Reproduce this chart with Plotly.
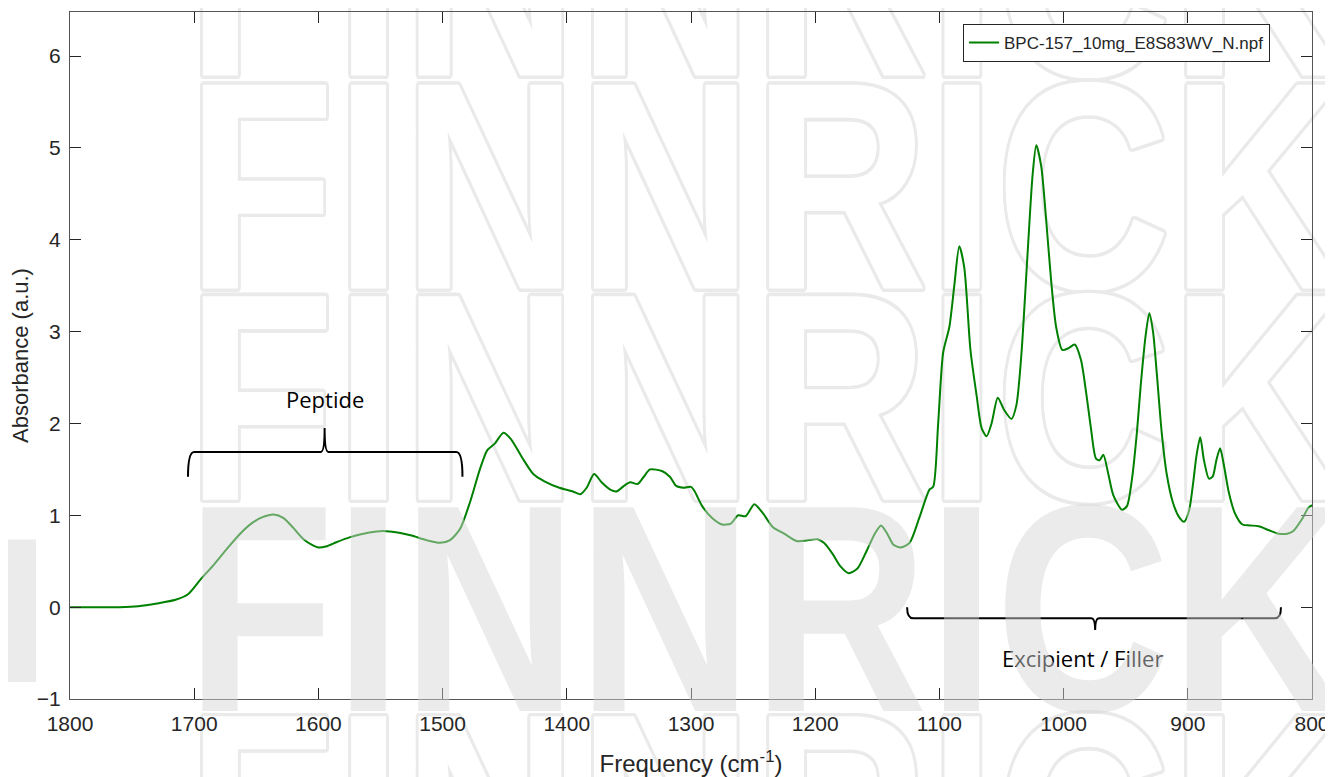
import plotly.graph_objects as go

# ---------------- data ----------------
FREQ = [1800, 1780, 1760, 1745, 1730, 1715, 1705, 1695, 1685, 1674, 1663, 1653, 1645, 1636,
        1628, 1620, 1612, 1604, 1600, 1594, 1585, 1575, 1560, 1548, 1535, 1525, 1513, 1502,
        1494, 1486, 1478, 1470, 1464, 1458, 1451, 1445, 1436, 1427, 1418, 1406, 1395, 1389,
        1384, 1378, 1372, 1365, 1360, 1354, 1349, 1343, 1338, 1333, 1323, 1317, 1312, 1306,
        1300, 1297, 1291, 1283, 1275, 1268, 1262, 1256, 1249, 1242, 1234, 1225, 1215, 1205,
        1198, 1193, 1186, 1180, 1173, 1166, 1159, 1152, 1147, 1142, 1137, 1131, 1124, 1116,
        1108, 1105, 1101, 1097, 1092, 1088, 1084, 1080, 1075, 1070, 1066, 1062, 1058, 1053,
        1048, 1042, 1038, 1034, 1029, 1025, 1022, 1018, 1014, 1010, 1006, 1001, 996, 991,
        986, 982, 978, 974, 971, 968, 964, 960, 953, 949, 945, 941, 938, 934, 931, 928, 925,
        921, 917, 912, 907, 903, 899, 896, 893, 890, 887, 883, 880, 877, 874, 871, 867, 862,
        856, 850, 843, 835, 827, 820, 815, 808, 803, 800]
ABSORBANCE = [0.00, 0.00, 0.00, 0.01, 0.04, 0.08, 0.14, 0.30, 0.45, 0.63, 0.80, 0.92, 0.98, 1.01,
              0.97, 0.86, 0.74, 0.67, 0.65, 0.66, 0.71, 0.76, 0.81, 0.83, 0.81, 0.78, 0.73, 0.70,
              0.73, 0.85, 1.14, 1.50, 1.71, 1.78, 1.90, 1.83, 1.63, 1.45, 1.37, 1.30, 1.26, 1.23,
              1.30, 1.45, 1.36, 1.28, 1.26, 1.32, 1.36, 1.34, 1.42, 1.50, 1.48, 1.42, 1.32, 1.30,
              1.31, 1.26, 1.10, 0.97, 0.90, 0.91, 1.00, 0.99, 1.12, 1.02, 0.87, 0.80, 0.72, 0.73,
              0.74, 0.70, 0.58, 0.45, 0.37, 0.42, 0.60, 0.80, 0.89, 0.80, 0.68, 0.65, 0.70, 0.98,
              1.28, 1.31, 2.00, 2.77, 3.05, 3.50, 3.93, 3.70, 2.80, 2.30, 1.95, 1.86, 2.00, 2.28,
              2.15, 2.05, 2.20, 2.75, 3.85, 4.70, 5.03, 4.80, 4.21, 3.55, 3.05, 2.80, 2.82, 2.86,
              2.69, 2.35, 1.95, 1.62, 1.60, 1.66, 1.45, 1.22, 1.06, 1.10, 1.39, 1.90, 2.40, 2.95,
              3.20, 3.00, 2.55, 1.90, 1.45, 1.14, 0.98, 0.93, 1.05, 1.32, 1.65, 1.85, 1.60, 1.40,
              1.42, 1.60, 1.73, 1.55, 1.25, 1.02, 0.90, 0.89, 0.88, 0.84, 0.80, 0.80, 0.83, 0.96,
              1.08, 1.11]
SERIES_NAME = "BPC-157_10mg_E8S83WV_N.npf"

X_TICKS = [1800, 1700, 1600, 1500, 1400, 1300, 1200, 1100, 1000, 900, 800]
Y_TICKS = [-1, 0, 1, 2, 3, 4, 5, 6]
X_RANGE = [1800, 800]
Y_RANGE = [-1, 6.48]

# region annotations: (left end, tip, right end) in cm^-1 ; (end y, bar y, tip y)
PEPTIDE_LABEL = "Peptide"
PEPTIDE_BRACE_X = [1705, 1595, 1484]
PEPTIDE_BRACE_Y = [1.42, 1.69, 1.95]
PEPTIDE_LABEL_Y = 2.27
FILLER_LABEL = "Excipient / Filler"
FILLER_BRACE_X = [1126, 974.6, 825]
FILLER_BRACE_Y = [0.0, -0.12, -0.25]
FILLER_LABEL_X = 985
FILLER_LABEL_Y = -0.55

WATERMARK = "FINNRICK"

# ---------------- layout geometry (screen pixels; page body has an 8px margin) ----------------
SCREEN_W, SCREEN_H = 1333, 777
BODY = 8
PX0, PX1, PY0, PY1 = 70, 1313, 11, 700          # plot area on screen
FIG_W, FIG_H = SCREEN_W - BODY, SCREEN_H - BODY
ML, MR, MT, MB = PX0 - BODY, SCREEN_W - PX1, PY0 - BODY, SCREEN_H - PY1
PW, PH = PX1 - PX0, PY1 - PY0


def xpaper(sx):
    return (sx - PX0) / PW


def ypaper(sy):
    return (PY1 - sy) / PH


def xdata(sx):
    return X_RANGE[0] + xpaper(sx) * (X_RANGE[1] - X_RANGE[0])


def ydata(sy):
    return Y_RANGE[0] + ypaper(sy) * (Y_RANGE[1] - Y_RANGE[0])


def brace_path(xs, ys, corner=5.0, tipw=3.0):
    x0, xt, x1 = xs
    ye, yb, yt = ys
    s = 1 if x0 > x1 else -1
    return (f"M {x0},{ye} Q {x0},{yb} {x0 - s*corner},{yb} "
            f"L {xt + s*tipw},{yb} Q {xt},{yb} {xt},{yt} "
            f"Q {xt},{yb} {xt - s*tipw},{yb} "
            f"L {x1 + s*corner},{yb} Q {x1},{yb} {x1},{ye}")


WM_FONT = "Liberation Sans, Arial, sans-serif"
WM_SIZE = 296
WM_SQUEEZE = 0.82
WM_CENTER_PX = 767
# outlined rows: (anchor point on screen, text position relative to it)
WM_ROWS = [(149, "top center"), (214, "middle center"), (426, "middle center"),
           (699, "bottom center")]
WM_FILLED_PX = 609
oc = "#eaeaea"
OUTLINE = ", ".join(f"{dx}px {dy}px 0 {oc}" for dx, dy in
                    [(3, 0), (-3, 0), (0, 3), (0, -3), (2.1, 2.1), (-2.1, -2.1), (2.1, -2.1),
                     (-2.1, 2.1), (3, 1.5), (-3, 1.5), (3, -1.5), (-3, -1.5),
                     (1.5, 3), (-1.5, 3), (1.5, -3), (-1.5, -3)])

fig = go.Figure()

# outlined watermark rows (under the data)
fig.add_trace(go.Scatter(
    x=[xdata(WM_CENTER_PX)] * len(WM_ROWS),
    y=[ydata(p) for p, _ in WM_ROWS],
    text=[WATERMARK] * len(WM_ROWS),
    mode="text", textposition=[pos for _, pos in WM_ROWS],
    textfont=dict(family=WM_FONT, size=WM_SIZE, color="white", weight=700, shadow=OUTLINE),
    cliponaxis=False, hoverinfo="skip", showlegend=False))

fig.add_trace(go.Scatter(
    x=FREQ, y=ABSORBANCE, mode="lines", name=SERIES_NAME,
    line=dict(color="rgb(0,128,0)", width=2, shape="spline", smoothing=0.7)))

AX_COL = "#262626"
TICK_FONT = dict(family="Liberation Sans, Arial", size=21, color=AX_COL)
fig.update_xaxes(range=X_RANGE, tickvals=X_TICKS, ticks="inside", ticklen=11, tickwidth=1,
                 tickcolor=AX_COL, showline=True, linecolor="#555", linewidth=1, mirror="ticks",
                 showgrid=False, zeroline=False, tickfont=TICK_FONT, ticklabelstandoff=6,
                 title=dict(text="Frequency (cm<sup>-1</sup>)", standoff=22,
                            font=dict(family="Liberation Sans, Arial", size=24, color=AX_COL)))
fig.update_yaxes(range=Y_RANGE, tickvals=Y_TICKS, ticks="inside", ticklen=11, tickwidth=1,
                 tickcolor=AX_COL, showline=True, linecolor="#555", linewidth=1, mirror="ticks",
                 showgrid=False, zeroline=False, tickfont=TICK_FONT, ticklabelstandoff=4,
                 title=dict(text="Absorbance (a.u.)", standoff=10,
                            font=dict(family="Liberation Sans, Arial", size=22, color=AX_COL)))

shapes = [
    dict(type="path", xref="x", yref="y", path=brace_path(PEPTIDE_BRACE_X, PEPTIDE_BRACE_Y),
         line=dict(color="black", width=2)),
    dict(type="path", xref="x", yref="y", path=brace_path(FILLER_BRACE_X, FILLER_BRACE_Y),
         line=dict(color="black", width=2)),
    dict(type="rect", xref="paper", yref="paper",
         x0=xpaper(0), x1=xpaper(36), y0=ypaper(683), y1=ypaper(540),
         fillcolor="rgba(212,212,212,0.47)", line=dict(width=0)),
]

annotations = [
    dict(text=PEPTIDE_LABEL, x=PEPTIDE_BRACE_X[1], y=PEPTIDE_LABEL_Y, xref="x", yref="y",
         showarrow=False, font=dict(family="Open Sans", size=22, color="black")),
    dict(text=FILLER_LABEL, x=FILLER_LABEL_X, y=FILLER_LABEL_Y, xref="x", yref="y",
         showarrow=False, font=dict(family="Open Sans", size=22, color="black")),
    dict(text=WATERMARK, x=xpaper(WM_CENTER_PX), y=ypaper(WM_FILLED_PX),
         xref="paper", yref="paper", xanchor="center", yanchor="middle", showarrow=False,
         font=dict(family=WM_FONT, size=WM_SIZE, color="rgba(212,212,212,0.47)", weight=700)),
]

fig.update_layout(
    width=FIG_W, height=FIG_H, margin=dict(l=ML, r=MR, t=MT, b=MB),
    paper_bgcolor="white", plot_bgcolor="white",
    shapes=shapes, annotations=annotations,
    legend=dict(x=xpaper(1271), y=ypaper(23), xanchor="right", yanchor="top",
                bgcolor="white", bordercolor=AX_COL, borderwidth=1,
                font=dict(family="Liberation Sans, Arial", size=17, color=AX_COL)),
)

# condense the (real-text) watermark horizontally, like the narrow typeface of the original
SQUEEZE_JS = """
var gd = document.getElementById('{plot_id}');
function squeezeWM(){
  gd.querySelectorAll('text').forEach(function(t){
    if (t.textContent === '%s' && !t.getAttribute('data-sq')) {
      var bb = t.getBBox();
      var cx = bb.x + bb.width / 2;
      var old = t.getAttribute('transform') || '';
      t.setAttribute('transform', 'translate(' + cx + ',0) scale(%s,1) translate(' + (-cx) + ',0) ' + old);
      t.setAttribute('data-sq', '1');
    }
  });
}
squeezeWM();
gd.on('plotly_afterplot', squeezeWM);
""" % (WATERMARK, WM_SQUEEZE)

fig.write_html("out.html", post_script=SQUEEZE_JS)
